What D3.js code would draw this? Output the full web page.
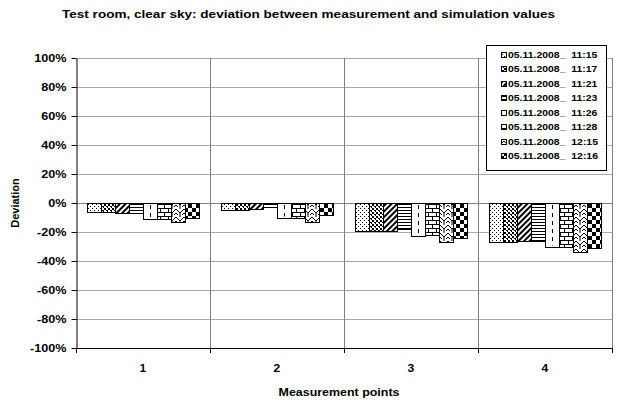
<!DOCTYPE html>
<html><head><meta charset="utf-8">
<script src="https://cdn.jsdelivr.net/npm/d3@7"></script>
<style>body{margin:0;background:#fff}svg{display:block;font-family:"Liberation Sans",Arial,sans-serif;font-weight:bold}</style>
</head><body><svg id="c" width="619" height="403"></svg>
<script>
const categories = ["1", "2", "3", "4"];
const seriesNames = ["05.11.2008_  11:15", "05.11.2008_  11:17", "05.11.2008_  11:21", "05.11.2008_  11:23",
  "05.11.2008_  11:26", "05.11.2008_  11:28", "05.11.2008_  12:15", "05.11.2008_  12:16"];
const s1115 = [-0.06, -0.05, -0.19, -0.27];
const s1117 = [-0.06, -0.05, -0.19, -0.27];
const s1121 = [-0.07, -0.04, -0.19, -0.26];
const s1123 = [-0.07, -0.03, -0.18, -0.26];
const s1126 = [-0.11, -0.10, -0.23, -0.30];
const s1128 = [-0.11, -0.10, -0.22, -0.30];
const s1215 = [-0.13, -0.13, -0.27, -0.34];
const s1216 = [-0.10, -0.08, -0.24, -0.31];
const seriesValues = [s1115, s1117, s1121, s1123, s1126, s1128, s1215, s1216];
const yTicks = [1, 0.8, 0.6, 0.4, 0.2, 0, -0.2, -0.4, -0.6, -0.8, -1];
const yTickLabels = ["100%", "80%", "60%", "40%", "20%", "0%", "-20%", "-40%", "-60%", "-80%", "-100%"];

const svg = d3.select("#c");
const L = 76, R = 612, T = 58, B = 348;

function stretch(sel, factor) {
  sel.each(function () {
    const w = this.getComputedTextLength();
    d3.select(this).attr("textLength", w * factor).attr("lengthAdjust", "spacingAndGlyphs");
  });
}

const defs = svg.append("defs");
function pat(id, w, h, build) {
  const p = defs.append("pattern").attr("id", id).attr("patternUnits", "userSpaceOnUse").attr("width", w).attr("height", h);
  p.append("rect").attr("width", w).attr("height", h).attr("fill", "#fff");
  build(p);
  return p;
}
pat("p0", 4, 4, p => { p.append("rect").attr("x", 0).attr("y", 0).attr("width", 1).attr("height", 1); p.append("rect").attr("x", 2).attr("y", 2).attr("width", 1).attr("height", 1); });
pat("p1", 4, 4, p => { p.append("rect").attr("x", 0).attr("y", 0).attr("width", 2).attr("height", 2); p.append("rect").attr("x", 2).attr("y", 2).attr("width", 2).attr("height", 1); p.append("rect").attr("x", 3).attr("y", 3).attr("width", 1).attr("height", 1); });
pat("p2", 4, 4, p => { p.attr("patternTransform", "rotate(45)"); p.append("rect").attr("x", 0).attr("y", 0).attr("width", 2).attr("height", 4); });
pat("p3", 3, 3, p => { p.append("rect").attr("x", 0).attr("y", 0).attr("width", 3).attr("height", 1); });
pat("p4", 4, 4, p => {});
pat("p5", 8, 8, p => {
  p.append("path").attr("d", "M0,0.5H8M0,4.5H8M0.5,0.5V4.5M4.5,4.5V8").attr("stroke", "#000").attr("stroke-width", 1).attr("fill", "none");
});
pat("p6", 8, 8, p => {
  p.append("path").attr("d", "M0,1L4,5L8,1M0,5L2,7M6,7L8,5M4,5L4,8M4,0L4,1").attr("stroke", "#000").attr("stroke-width", 1).attr("fill", "none");
});
pat("p7", 8, 8, p => { p.append("rect").attr("x", 0).attr("y", 0).attr("width", 4).attr("height", 4); p.append("rect").attr("x", 4).attr("y", 4).attr("width", 4).attr("height", 4); });

const y = d3.scaleLinear().domain([-1, 1]).range([B, T]);
const x0 = d3.scaleBand().domain(categories).range([L, R]);
const x1 = d3.scaleBand().domain(d3.range(seriesNames.length)).range([0, x0.bandwidth()]).paddingOuter(0.82);

// title
svg.append("text").attr("x", 62).attr("y", 18).attr("font-size", 10.5)
  .attr("textLength", 493).attr("lengthAdjust", "spacingAndGlyphs")
  .text("Test room, clear sky: deviation between measurement and simulation values");

// gridlines
svg.append("g").selectAll("line").data(yTicks).join("line")
  .attr("x1", L).attr("x2", R).attr("y1", d => Math.round(y(d)) + 0.5).attr("y2", d => Math.round(y(d)) + 0.5)
  .attr("stroke", d => d === 0 ? "#808080" : "#a8a8a8").attr("stroke-width", 1);
svg.append("g").selectAll("line").data(categories.slice(1).concat(["end"])).join("line")
  .attr("x1", d => d === "end" ? R + 0.5 : Math.round(x0(d)) + 0.5).attr("x2", d => d === "end" ? R + 0.5 : Math.round(x0(d)) + 0.5)
  .attr("y1", T).attr("y2", B).attr("stroke", "#808080");

// bars
const g = svg.append("g");
seriesValues.forEach((vals, si) => {
  g.append("g").selectAll("rect").data(vals).join("rect")
    .attr("x", (d, i) => Math.round(x0(categories[i]) + x1(si)) + 0.5)
    .attr("y", d => Math.round(y(Math.max(0, d))) + 0.5)
    .attr("width", Math.round(x1.bandwidth()))
    .attr("height", d => Math.round(Math.abs(y(d) - y(0))))
    .attr("fill", `url(#p${si})`).attr("stroke", "#000").attr("stroke-width", 1);
  if (si === 4) {
    g.append("g").selectAll("line").data(vals).join("line")
      .attr("x1", (d, i) => Math.round(x0(categories[i]) + x1(si) + x1.bandwidth() / 2) + 0.5)
      .attr("x2", (d, i) => Math.round(x0(categories[i]) + x1(si) + x1.bandwidth() / 2) + 0.5)
      .attr("y1", y(0) + 2).attr("y2", d => y(d) - 1)
      .attr("stroke", "#000").attr("stroke-dasharray", "4,4");
  }
});

// y axis
const ya = d3.axisLeft(y).tickValues(yTicks).tickFormat((d, i) => yTickLabels[i]).tickSize(5).tickSizeOuter(0);
const yg = svg.append("g").attr("transform", `translate(${L + 0.5},0)`).call(ya);
yg.select(".domain").attr("stroke", "#000");
yg.selectAll("text").attr("font-size", 10.5).attr("font-weight", "bold").attr("font-family", "'Liberation Sans',Arial,sans-serif").attr("fill", "#000").attr("x", -10);
stretch(yg.selectAll("text"), 1.2);

// x axis at bottom
svg.append("line").attr("x1", L).attr("x2", R + 1).attr("y1", B + 0.5).attr("y2", B + 0.5).attr("stroke", "#000");
svg.append("g").selectAll("line").data(categories.concat(["end"])).join("line")
  .attr("x1", d => d === "end" ? R + 0.5 : Math.round(x0(d)) + 0.5).attr("x2", d => d === "end" ? R + 0.5 : Math.round(x0(d)) + 0.5)
  .attr("y1", B).attr("y2", B + 5).attr("stroke", "#000");
const cl = svg.append("g").selectAll("text").data(categories).join("text")
  .attr("x", d => x0(d) + x0.bandwidth() / 2).attr("y", 372).attr("text-anchor", "middle").attr("font-size", 10.5).text(d => d);
stretch(cl, 1.15);

const xl = svg.append("text").attr("x", (L + R) / 2 - 5).attr("y", 396).attr("text-anchor", "middle").attr("font-size", 11).text("Measurement points");
stretch(xl, 1.13);
svg.append("text").attr("transform", `translate(19,${y(0)}) rotate(-90)`).attr("text-anchor", "middle").attr("font-size", 11).text("Deviation");

// legend
const lg = svg.append("g");
lg.append("rect").attr("x", 486.5).attr("y", 45.5).attr("width", 120).attr("height", 125).attr("fill", "#fff").attr("stroke", "#000");
seriesNames.forEach((n, i) => {
  const yy = 55 + i * 14.45;
  lg.append("rect").attr("x", 501.5).attr("y", Math.round(yy - 3) + 0.5).attr("width", 5).attr("height", 5)
    .attr("fill", `url(#p${i})`).attr("stroke", "#000");
  const t = lg.append("text").attr("x", 508).attr("y", yy + 3).attr("font-size", 9).attr("xml:space", "preserve").style("white-space", "pre").text(n);
  stretch(t, 1.16);
});
</script></body></html>
